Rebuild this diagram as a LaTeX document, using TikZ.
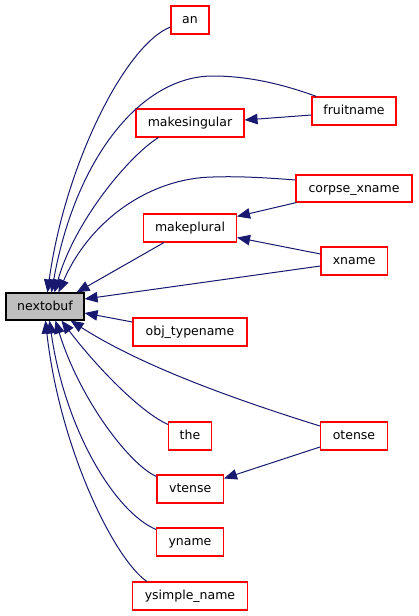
\documentclass[tikz,border=0pt]{standalone}
\usepackage{fontspec}
\setmainfont{DejaVu Sans}
\usetikzlibrary{arrows.meta}
\definecolor{edgec}{HTML}{191970}
\definecolor{nodec}{HTML}{FF0000}
\definecolor{mainfill}{HTML}{BFBFBF}
\begin{document}
\begin{tikzpicture}[x=1pt,y=-1pt,
  box/.style={draw=nodec, fill=white, line width=1.1pt, inner sep=0pt,
    font=\fontsize{12.5}{14}\selectfont, text height=9.5pt, text depth=2.5pt, minimum height=28pt},
  mainbox/.style={box, draw=black, fill=mainfill},
  edge/.style={draw=edgec, line width=1pt, -{Triangle[length=13pt,width=10.5pt]}}]
\useasboundingbox[fill=white] (0,0) rectangle (419,616);

\node[mainbox, minimum width=78pt, minimum height=27pt] (nextobuf) at (45,306.5) {nextobuf};
\node[box, minimum width=38pt] (an) at (190,20) {an};
\node[box, minimum width=84pt] (fruitname) at (354,111) {fruitname};
\node[box, minimum width=108pt] (makesingular) at (190,123) {makesingular};
\node[box, minimum width=116pt, minimum height=27pt] (corpse) at (354,188.5) {corpse\_xname};
\node[box, minimum width=93pt] (makeplural) at (190,228) {makeplural};
\node[box, minimum width=66.5pt] (xname) at (354.2,261) {xname};
\node[box, minimum width=114pt] (objtypename) at (190,332) {obj\_typename};
\node[box, minimum width=43pt] (the) at (190,436) {the};
\node[box, minimum width=67pt] (otense) at (354,436) {otense};
\node[box, minimum width=66.5pt] (vtense) at (190.2,489) {vtense};
\node[box, minimum width=67pt] (yname) at (190,542) {yname};
\node[box, minimum width=115pt] (ysimple) at (190,596) {ysimple\_name};

% edges into nextobuf from above
\draw[edge] ([yshift=-7pt]an.west) .. controls (125,45) and (65,165) .. ([xshift=42pt]nextobuf.north west);
\draw[edge] ([xshift=5pt]fruitname.north west) .. controls (285,85) and (250,76) .. (213,76)
  .. controls (140,76) and (75,160) .. ([xshift=46pt]nextobuf.north west);
\draw[edge] ([xshift=23pt]makesingular.south west) .. controls (130,155) and (75,220) .. ([xshift=49pt]nextobuf.north west);
\draw[edge] ([yshift=8.5pt]corpse.west) .. controls (270,178) and (240,176) .. (213,177)
  .. controls (150,178) and (90,220) .. ([xshift=53pt]nextobuf.north west);
\draw[edge] ([xshift=21pt]makeplural.south west) -- ([xshift=-8pt]nextobuf.north east);
\draw[edge] ([yshift=-5pt]xname.west) -- ([yshift=7.5pt]nextobuf.east);
\draw[edge] ([yshift=10pt]objtypename.west) -- ([yshift=-6.5pt]nextobuf.east);

% edges into nextobuf from below
\draw[edge] ([yshift=10pt]otense.west) .. controls (230,398) and (140,365) .. ([xshift=-14pt]nextobuf.south east);
\draw[edge] ([yshift=-3pt]the.north west) .. controls (140,412) and (95,365) .. ([xshift=56pt]nextobuf.south west);
\draw[edge] ([yshift=-2pt]vtense.north west) .. controls (130,465) and (80,400) .. ([xshift=50pt]nextobuf.south west);
\draw[edge] ([yshift=-2pt]yname.north west) .. controls (115,512) and (65,430) .. ([xshift=44pt]nextobuf.south west);
\draw[edge] ([xshift=15pt]ysimple.north west) .. controls (115,560) and (60,450) .. ([xshift=40pt]nextobuf.south west);

% other edges
\draw[edge] ([yshift=-4pt]fruitname.west) -- ([yshift=3pt]makesingular.east);
\draw[edge] ([xshift=1pt]corpse.south west) -- ([yshift=-3pt]makeplural.north east);
\draw[edge] ([yshift=7pt]xname.west) -- ([yshift=5pt]makeplural.south east);
\draw[edge] ([yshift=-11pt]otense.west) -- ([yshift=-4pt]vtense.north east);
\end{tikzpicture}
\end{document}
